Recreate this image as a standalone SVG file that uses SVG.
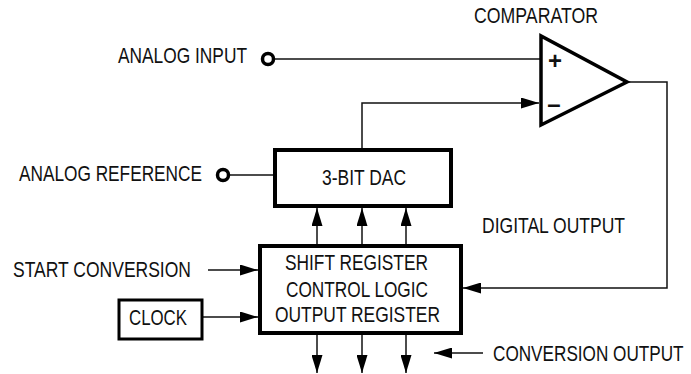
<svg xmlns="http://www.w3.org/2000/svg" width="691" height="374" viewBox="0 0 691 374">
<style>
  text { font-family: "Liberation Sans", Arial, sans-serif; font-size: 22px; fill: #111; }
  .box { fill: #fff; stroke: #000; stroke-width: 4; }
  .wire { fill: none; stroke: #111; stroke-width: 1.5; }
  .arr { fill: none; stroke: #111; stroke-width: 1.5; marker-end: url(#ah); }
  .term { fill: #fff; stroke: #000; stroke-width: 3.5; }
  .sign { font-size: 24px; font-weight: bold; }
</style>
<defs>
  <marker id="ah" viewBox="0 0 18 11" refX="18" refY="5.5" markerWidth="18" markerHeight="11" markerUnits="userSpaceOnUse" orient="auto">
    <path d="M0,0 L18,5.5 L0,11 z" fill="#000"/>
  </marker>
</defs>

<g id="connectors">
  <line class="wire" x1="274" y1="59" x2="541" y2="59"/>
  <polyline class="arr" points="362,148 362,103 539,103"/>
  <polyline class="arr" points="628,82 667,82 667,288 463,288"/>
  <line class="wire" x1="229" y1="175" x2="273" y2="175"/>
  <line class="arr" x1="317" y1="244" x2="317" y2="208"/>
  <line class="arr" x1="362" y1="244" x2="362" y2="208"/>
  <line class="arr" x1="406" y1="244" x2="406" y2="208"/>
  <line class="arr" x1="317" y1="335" x2="317" y2="373"/>
  <line class="arr" x1="362" y1="335" x2="362" y2="373"/>
  <line class="arr" x1="406" y1="335" x2="406" y2="373"/>
  <line class="arr" x1="208" y1="270" x2="258" y2="270"/>
  <line class="arr" x1="203" y1="317" x2="258" y2="317"/>
  <line class="arr" x1="483" y1="353" x2="434" y2="353"/>
</g>

<g id="comparator">
  <polygon points="541,36 541,125 627,82" fill="#fff" stroke="#000" stroke-width="3.5" stroke-linejoin="miter"/>
  <text class="sign" x="555" y="69" text-anchor="middle">+</text>
  <text class="sign" x="554" y="112" text-anchor="middle">–</text>
  <text x="474" y="23" textLength="124" lengthAdjust="spacingAndGlyphs">COMPARATOR</text>
</g>

<g id="analog-input">
  <text x="118" y="63" textLength="129" lengthAdjust="spacingAndGlyphs">ANALOG INPUT</text>
  <circle class="term" cx="268" cy="59" r="5.5"/>
</g>

<g id="analog-reference">
  <text x="19" y="181" textLength="183" lengthAdjust="spacingAndGlyphs">ANALOG REFERENCE</text>
  <circle class="term" cx="223" cy="175" r="5.5"/>
</g>

<g id="dac">
  <rect class="box" x="275" y="150" width="176" height="56"/>
  <text x="322" y="185" textLength="84" lengthAdjust="spacingAndGlyphs">3-BIT DAC</text>
</g>

<g id="digital-output">
  <text x="482" y="233" textLength="143" lengthAdjust="spacingAndGlyphs">DIGITAL OUTPUT</text>
</g>

<g id="start-conversion">
  <text x="13" y="277" textLength="178" lengthAdjust="spacingAndGlyphs">START CONVERSION</text>
</g>

<g id="clock">
  <rect class="box" x="119" y="300" width="83" height="39" style="stroke-width:3"/>
  <text x="129" y="325" textLength="58" lengthAdjust="spacingAndGlyphs">CLOCK</text>
</g>

<g id="shift-register">
  <rect class="box" x="260" y="246" width="201" height="87"/>
  <text x="285" y="270" textLength="143" lengthAdjust="spacingAndGlyphs">SHIFT REGISTER</text>
  <text x="286" y="297" textLength="142" lengthAdjust="spacingAndGlyphs">CONTROL LOGIC</text>
  <text x="275" y="322" textLength="165" lengthAdjust="spacingAndGlyphs">OUTPUT REGISTER</text>
</g>

<g id="conversion-output">
  <text transform="translate(493,361) scale(0.78,1)" x="0" y="0">CONVERSION OUTPUT</text>
</g>
</svg>
